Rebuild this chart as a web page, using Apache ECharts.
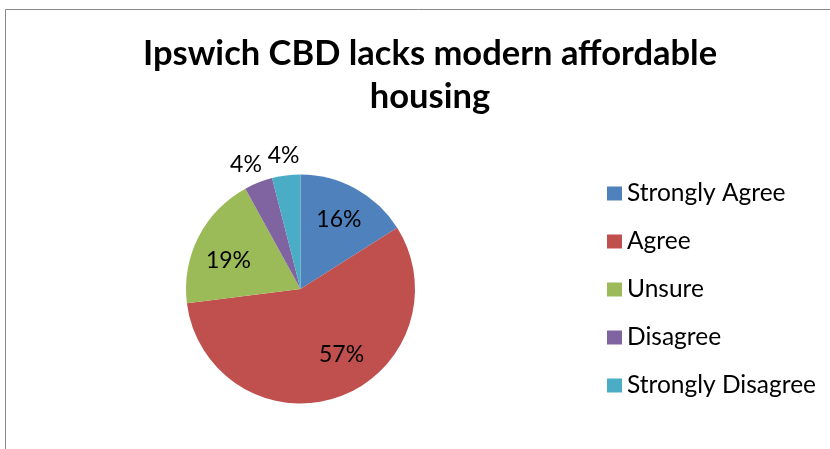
<!DOCTYPE html>
<html>
<head>
<meta charset="utf-8">
<script src="https://cdn.jsdelivr.net/npm/echarts@6/dist/echarts.min.js"></script>
<style>
  html, body { margin: 0; padding: 0; background: #ffffff; }
  #chart { width: 830px; height: 449px; }
</style>
</head>
<body>
<div id="chart"></div>
<script>
// Survey responses
const categories = ['Strongly Agree', 'Agree', 'Unsure', 'Disagree', 'Strongly Disagree'];
const shares = [16, 57, 19, 4, 4];
const palette = ['#4F81BD', '#C0504D', '#9BBB59', '#8064A2', '#4BACC6'];

const FONT = 'Lato, "Open Sans", sans-serif';
const CENTER = [300.5, 289];
const R = 114.5;
const SMALL = 10; // slices below this share get their label outside the pie

// small nudges for a few labels so they sit clear of their neighbours
const labelNudge = { 'Agree': [14, -9], 'Unsure': [-1, 8], 'Disagree': [-5, 1] };

const sliceData = categories.map((name, i) => ({ name, value: shares[i] }));

const chart = echarts.init(document.getElementById('chart'), null, { renderer: 'canvas' });

// transparent copy of the pie, used only to place percentage labels along each slice's mid-angle
function labelRing(radius, showIf) {
  return {
    type: 'pie',
    center: CENTER,
    radius: [0, radius],
    startAngle: 90,
    clockwise: true,
    silent: true,
    animation: false,
    z: 5,
    itemStyle: { color: 'rgba(0,0,0,0)', borderWidth: 0 },
    emphasis: { disabled: true },
    labelLine: { show: false },
    label: {
      show: true,
      position: 'inside',
      fontFamily: FONT,
      fontSize: 23,
      color: '#000',
      formatter: p => (showIf(p.value) ? Math.round(p.percent) + '%' : '')
    },
    tooltip: { show: false },
    data: sliceData.map(d => {
      const item = Object.assign({}, d);
      if (showIf(d.value) && labelNudge[d.name]) item.label = { offset: labelNudge[d.name] };
      return item;
    })
  };
}

const option = {
  animation: false,
  color: palette,
  graphic: [{
    type: 'rect',
    shape: { x: 5.5, y: 9.5, width: 1000, height: 600 },
    style: { fill: 'none', stroke: '#8a8a8a', lineWidth: 1 },
    silent: true
  }],
  title: {
    text: 'Ipswich CBD lacks modern affordable\nhousing',
    left: 425,
    top: 27,
    textAlign: 'center',
    textStyle: {
      fontFamily: FONT,
      fontWeight: 'bold',
      fontSize: 34.5,
      lineHeight: 43,
      color: '#000'
    }
  },
  legend: {
    orient: 'vertical',
    left: 607,
    top: 181,
    padding: 0,
    icon: 'rect',
    itemWidth: 15,
    itemHeight: 14,
    itemGap: 23,
    selectedMode: false,
    data: categories,
    textStyle: { fontFamily: FONT, fontSize: 24.5, lineHeight: 25, color: '#000' }
  },
  series: [
    {
      type: 'pie',
      center: CENTER,
      radius: [0, R],
      startAngle: 90,
      clockwise: true,
      animation: false,
      label: { show: false },
      labelLine: { show: false },
      itemStyle: { borderWidth: 0 },
      emphasis: { disabled: true },
      data: sliceData
    },
    labelRing(R * 1.34, v => v >= SMALL),
    labelRing(R * 2.3, v => v < SMALL)
  ]
};

chart.setOption(option);
</script>
</body>
</html>
